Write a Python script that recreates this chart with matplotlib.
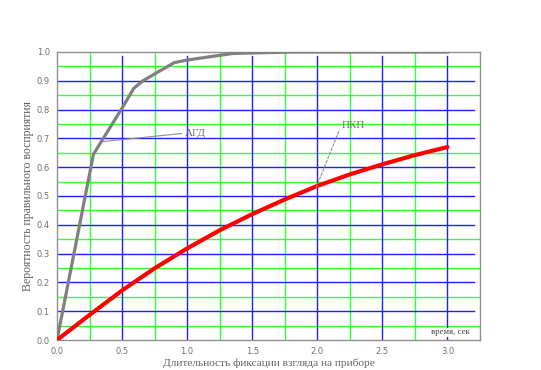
import matplotlib
matplotlib.use("Agg")
import matplotlib.pyplot as plt
import numpy as np

# Data
agd_x = [0.0, 0.28, 0.5, 0.59, 0.66, 0.9, 1.0, 1.35, 1.8, 3.0]
agd_y = [0.0, 0.645, 0.805, 0.874, 0.90, 0.963, 0.972, 0.995, 1.0, 1.0]
pkp_x = [0.0, 0.25, 0.5, 0.75, 1.0, 1.25, 1.5, 1.75, 2.0, 2.25, 2.5, 2.75, 3.0]
pkp_y = [0.0, 0.087, 0.172, 0.249, 0.318, 0.381, 0.437, 0.488, 0.535, 0.575, 0.61, 0.642, 0.67]
x_ticks = [0.0, 0.5, 1.0, 1.5, 2.0, 2.5, 3.0]
x_minor = [0.25, 0.75, 1.25, 1.75, 2.25, 2.75]
y_ticks = [0.0, 0.1, 0.2, 0.3, 0.4, 0.5, 0.6, 0.7, 0.8, 0.9, 1.0]
y_minor = [0.05, 0.15, 0.25, 0.35, 0.45, 0.55, 0.65, 0.75, 0.85, 0.95]

fig = plt.figure(figsize=(5.41, 3.70), dpi=100)
ax = fig.add_axes([57/541, 30/370, 423/541, 288/370])
ax.set_xlim(0, 3.25)
ax.set_ylim(0, 1.0)

blue = "#2020ff"
green = "#33ff33"
for v in y_minor:
    ax.axhline(v, color=green, lw=1.0, zorder=1)
for v in x_minor:
    ax.axvline(v, color=green, lw=1.0, zorder=1)
for v in y_ticks[1:-1]:
    ax.axhline(v, xmin=0.0, xmax=0.985, color=blue, lw=1.0, zorder=1.5)
for v in x_ticks[1:]:
    ax.axvline(v, ymin=0.0, ymax=0.985, color=blue, lw=1.0, zorder=1.5)

ax.plot(agd_x, agd_y, color="#808080", lw=2.3, zorder=3, solid_joinstyle="round")
ax.plot(pkp_x, pkp_y, color="#ff0000", lw=3.0, zorder=3, solid_capstyle="round")

# annotations
ax.plot([0.355, 0.957], [0.689, 0.717], color="#909090", lw=0.8, zorder=4)
ax.text(0.98, 0.717, "АГД", fontsize=8, color="#707070", family="Liberation Serif",
        va="center", ha="left", zorder=5)
ax.plot([1.99, 2.17], [0.528, 0.73], color="#909090", lw=0.8, ls=(0, (3, 1)), zorder=4)
ax.text(2.19, 0.745, "ПКП", fontsize=8, color="#707070", family="Liberation Serif",
        va="center", ha="left", zorder=5)
ax.text(3.02, 0.027, "время, сек", fontsize=6.3, color="#404040", family="Liberation Serif",
        va="center", ha="center", zorder=5,
        bbox=dict(facecolor="white", edgecolor="none", pad=0.5))

ax.set_xticks(x_ticks)
ax.set_yticks(y_ticks)
ax.set_xticklabels([f"{v:.1f}" for v in x_ticks])
ax.set_yticklabels([f"{v:.1f}" for v in y_ticks])
ax.tick_params(axis="both", length=0, labelsize=6, labelcolor="#707070", pad=5)
for s in ax.spines.values():
    s.set_color("#909090")
    s.set_linewidth(1.0)

ax.set_xlabel("Длительность фиксации взгляда на приборе", fontsize=8.2,
              family="Liberation Serif", color="#606060", labelpad=2)
ax.set_ylabel("Вероятность правильного восприятия", fontsize=8.5,
              family="Liberation Serif", color="#606060", labelpad=2)

fig.savefig("out.png", dpi=100)
